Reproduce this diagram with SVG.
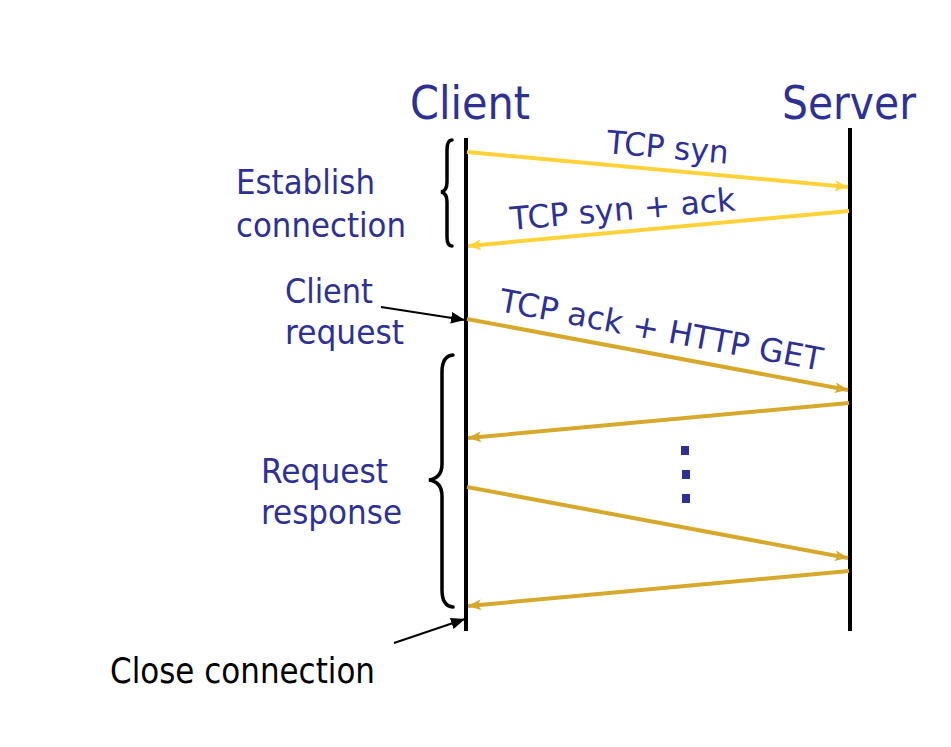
<svg xmlns="http://www.w3.org/2000/svg" width="951" height="747" viewBox="0 0 951 747">
<defs>
<style>
.t{font-family:"DejaVu Sans","Liberation Sans",sans-serif;fill:#2E3192}
.k{font-family:"DejaVu Sans","Liberation Sans",sans-serif;fill:#000}
.life{stroke:#000;stroke-width:4;fill:none}
.y1{stroke:#FFD23A;stroke-width:4;fill:none}
.y2{stroke:#D6A82C;stroke-width:4;fill:none}
.br{stroke:#000;stroke-width:3.5;fill:none;stroke-linecap:round}
.pt{stroke:#000;stroke-width:2;fill:none}
</style>
<marker id="ha" viewBox="0 0 12 10" refX="12" refY="5" markerWidth="14" markerHeight="11" markerUnits="userSpaceOnUse" orient="auto"><path d="M0,0 L12,5 L0,10 L3,5 Z" fill="#FFD23A"/></marker>
<marker id="hb" viewBox="0 0 12 10" refX="12" refY="5" markerWidth="14" markerHeight="11" markerUnits="userSpaceOnUse" orient="auto"><path d="M0,0 L12,5 L0,10 L3,5 Z" fill="#D6A82C"/></marker>
<marker id="hk" viewBox="0 0 12 10" refX="12" refY="5" markerWidth="14" markerHeight="12" markerUnits="userSpaceOnUse" orient="auto"><path d="M0,0 L12,5 L0,10 Z" fill="#000"/></marker>
</defs>
<rect width="951" height="747" fill="#fff"/>
<g id="client">
<text class="t" x="410" y="119" font-size="46" textLength="120" lengthAdjust="spacingAndGlyphs">Client</text>
<line class="life" x1="466" y1="138" x2="466" y2="631"/>
</g>
<g id="server">
<text class="t" x="782" y="119" font-size="46" textLength="134" lengthAdjust="spacingAndGlyphs">Server</text>
<line class="life" x1="850" y1="128" x2="850" y2="631"/>
</g>
<g id="connectors">
<line class="y1" x1="467" y1="152" x2="848" y2="187" marker-end="url(#ha)"/>
<line class="y1" x1="849" y1="211" x2="468" y2="246" marker-end="url(#ha)"/>
<line class="y2" x1="467" y1="319" x2="848" y2="390" marker-end="url(#hb)"/>
<line class="y2" x1="849" y1="403" x2="468" y2="438" marker-end="url(#hb)"/>
<line class="y2" x1="467" y1="487" x2="848" y2="558" marker-end="url(#hb)"/>
<line class="y2" x1="849" y1="571" x2="468" y2="606" marker-end="url(#hb)"/>
<line class="pt" x1="381" y1="307" x2="465" y2="320" marker-end="url(#hk)"/>
<line class="pt" x1="394" y1="643" x2="465" y2="619" marker-end="url(#hk)"/>
</g>
<g id="labels">
<text class="t" x="606" y="153" font-size="32" textLength="122" lengthAdjust="spacingAndGlyphs" transform="rotate(5 606 153)">TCP syn</text>
<text class="t" x="511" y="230" font-size="32" textLength="226" lengthAdjust="spacingAndGlyphs" transform="rotate(-5 511 230)">TCP syn + ack</text>
<text class="t" x="498" y="311" font-size="32" textLength="328" lengthAdjust="spacingAndGlyphs" transform="rotate(10.5 498 311)">TCP ack + HTTP GET</text>
</g>
<g id="dots" fill="#2E3192">
<rect x="681" y="446" width="8" height="9"/>
<rect x="682" y="470" width="8" height="9"/>
<rect x="682" y="494" width="8" height="9"/>
</g>
<g id="establish">
<path class="br" d="M452,140 Q447,140 447,150 L447,182 Q447,191 441,192 Q447,193 447,202 L447,237 Q447,246 452,246"/>
<text class="t" x="236" y="194" font-size="34" textLength="139" lengthAdjust="spacingAndGlyphs">Establish</text>
<text class="t" x="236" y="237" font-size="34" textLength="170" lengthAdjust="spacingAndGlyphs">connection</text>
</g>
<g id="client-request">
<text class="t" x="285" y="303" font-size="34" textLength="88" lengthAdjust="spacingAndGlyphs">Client</text>
<text class="t" x="285" y="344" font-size="34" textLength="119" lengthAdjust="spacingAndGlyphs">request</text>
</g>
<g id="request-response">
<path class="br" d="M453,355 Q442,356 442,372 L442,464 Q442,478 429,480 Q442,482 442,496 L442,590 Q442,606 453,607"/>
<text class="t" x="261" y="483" font-size="34" textLength="127" lengthAdjust="spacingAndGlyphs">Request</text>
<text class="t" x="261" y="524" font-size="34" textLength="141" lengthAdjust="spacingAndGlyphs">response</text>
</g>
<g id="close">
<text class="k" x="110" y="683" font-size="36" textLength="265" lengthAdjust="spacingAndGlyphs">Close connection</text>
</g>
</svg>
